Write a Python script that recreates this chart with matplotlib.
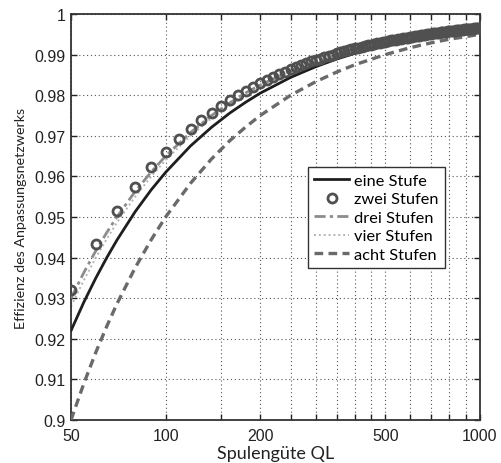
import matplotlib
matplotlib.use("Agg")
import matplotlib.pyplot as plt

# Spulengüte QL (Stützstellen der Kurven)
q = [50, 55, 60, 65, 70, 80, 90, 100, 120, 140, 160, 180, 200,
     250, 300, 350, 400, 500, 600, 700, 800, 900, 1000]

eine_stufe = [0.9220, 0.9291, 0.9350, 0.9400, 0.9443, 0.9513, 0.9567, 0.9610,
              0.9675, 0.9721, 0.9756, 0.9783, 0.9805, 0.9844, 0.9870, 0.9889,
              0.9903, 0.9922, 0.9935, 0.9944, 0.9951, 0.9957, 0.9961]
drei_stufen = [0.9300, 0.9364, 0.9417, 0.9462, 0.9500, 0.9563, 0.9611, 0.9650,
               0.9708, 0.9750, 0.9781, 0.9806, 0.9825, 0.9860, 0.9883, 0.9900,
               0.9913, 0.9930, 0.9942, 0.9950, 0.9956, 0.9961, 0.9965]
vier_stufen = [0.9280, 0.9345, 0.9400, 0.9446, 0.9486, 0.9550, 0.9600, 0.9640,
               0.9700, 0.9743, 0.9775, 0.9800, 0.9820, 0.9856, 0.9880, 0.9897,
               0.9910, 0.9928, 0.9940, 0.9949, 0.9955, 0.9960, 0.9964]
acht_stufen = [0.9000, 0.9091, 0.9167, 0.9231, 0.9286, 0.9375, 0.9444, 0.9500,
               0.9583, 0.9643, 0.9688, 0.9722, 0.9750, 0.9800, 0.9833, 0.9857,
               0.9875, 0.9900, 0.9917, 0.9929, 0.9938, 0.9944, 0.9950]

# zwei Stufen: Marker alle 10 Einheiten
q_zwei = list(range(50, 1001, 10))
zwei_stufen = [
    0.9320, 0.9433, 0.9514, 0.9575, 0.9622, 0.9660, 0.9691, 0.9717, 0.9738, 0.9757,
    0.9773, 0.9788, 0.9800, 0.9811, 0.9821, 0.9830, 0.9838, 0.9845, 0.9852, 0.9858,
    0.9864, 0.9869, 0.9874, 0.9879, 0.9883, 0.9887, 0.9890, 0.9894, 0.9897, 0.9900,
    0.9903, 0.9906, 0.9908, 0.9911, 0.9913, 0.9915, 0.9917, 0.9919, 0.9921, 0.9923,
    0.9924, 0.9926, 0.9928, 0.9929, 0.9931, 0.9932, 0.9933, 0.9935, 0.9936, 0.9937,
    0.9938, 0.9939, 0.9940, 0.9941, 0.9942, 0.9943, 0.9944, 0.9945, 0.9946, 0.9947,
    0.9948, 0.9948, 0.9949, 0.9950, 0.9951, 0.9951, 0.9952, 0.9953, 0.9953, 0.9954,
    0.9955, 0.9955, 0.9956, 0.9956, 0.9957, 0.9958, 0.9958, 0.9959, 0.9959, 0.9960,
    0.9960, 0.9960, 0.9961, 0.9961, 0.9962, 0.9962, 0.9963, 0.9963, 0.9963, 0.9964,
    0.9964, 0.9965, 0.9965, 0.9965, 0.9966, 0.9966,
]

x_grid = [50, 100, 150, 200, 250, 300, 350, 400, 450, 500, 600, 700, 800, 900, 1000]
x_labels = {50: "50", 100: "100", 200: "200", 500: "500", 1000: "1000"}
y_ticks = [0.9 + 0.01 * i for i in range(11)]
y_labels = ["0.9", "0.91", "0.92", "0.93", "0.94", "0.95", "0.96", "0.97", "0.98", "0.99", "1"]

fig = plt.figure(figsize=(5.01, 4.64), dpi=100)
ax = fig.add_axes([0.1417, 0.0927, 0.8163, 0.875])

ax.plot(q, eine_stufe, color="#1e1e1e", lw=2.0, label="eine Stufe", zorder=4)
ax.plot(q_zwei, zwei_stufen, ls="none", marker="o", ms=6.5, mew=2.0,
        mfc="none", mec="#505050", label="zwei Stufen", zorder=5)
ax.plot(q, drei_stufen, color="#8c8c8c", lw=2.0, dashes=(4, 1.5, 1.2, 1.5),
        label="drei Stufen", zorder=3)
ax.plot(q, vier_stufen, color="#b4b4b4", lw=1.4, ls=(0, (1, 1.5)),
        label="vier Stufen", zorder=2)
ax.plot(q, acht_stufen, color="#6a6a6a", lw=2.4, dashes=(2.6, 1.6),
        label="acht Stufen", zorder=3)

ax.set_xscale("log")
ax.set_xlim(50, 1000)
ax.set_ylim(0.9, 1.0)
ax.xaxis.set_major_locator(matplotlib.ticker.FixedLocator(x_grid))
ax.xaxis.set_major_formatter(matplotlib.ticker.FixedFormatter([x_labels.get(v, "") for v in x_grid]))
ax.xaxis.set_minor_locator(matplotlib.ticker.NullLocator())
ax.set_yticks(y_ticks)
ax.set_yticklabels(y_labels)

ax.grid(True, color="#555555", lw=0.8, ls=(0, (1, 2.5)))
ax.tick_params(direction="in", top=True, right=True, length=4, width=1,
               labelsize=11.5, colors="#222222", pad=4)
ax.tick_params(axis="x", pad=6)
for lab in ax.get_xticklabels() + ax.get_yticklabels():
    lab.set_fontfamily("Liberation Sans")
for sp in ax.spines.values():
    sp.set_linewidth(1.3)
    sp.set_color("#333333")

ax.set_xlabel("Spulengüte QL", fontfamily="Lato", fontsize=13, color="#222222", labelpad=1)
ax.set_ylabel("Effizienz des Anpassungsnetzwerks", fontfamily="Lato", fontsize=10.3,
              color="#222222", labelpad=5)

leg = ax.legend(loc="upper left", bbox_to_anchor=(0.579, 0.623), borderaxespad=0,
                prop={"family": "Lato", "size": 11.8}, handlelength=2.1,
                fancybox=False, framealpha=1, edgecolor="#333333",
                labelspacing=0.24, borderpad=0.4, handletextpad=0.3)
leg.get_frame().set_linewidth(1.0)

fig.savefig("out.png", dpi=100)
